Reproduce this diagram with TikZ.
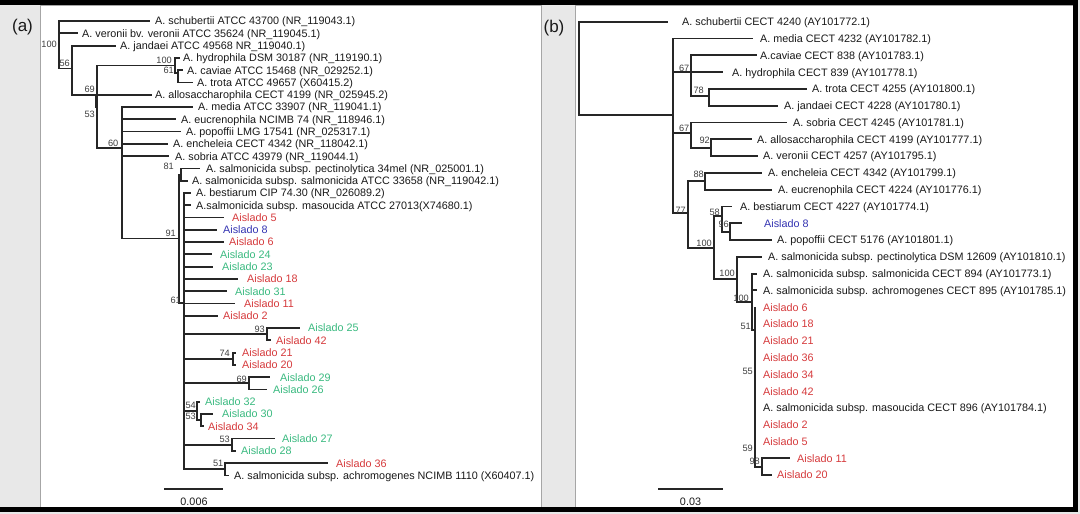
\documentclass[tikz,border=0pt]{standalone}
\usepackage{fontspec}
\setmainfont{Liberation Sans}
\definecolor{ared}{RGB}{214,58,60}
\definecolor{agreen}{RGB}{58,186,128}
\definecolor{ablue}{RGB}{52,52,178}
\definecolor{bggray}{RGB}{232,232,232}
\definecolor{txt}{RGB}{25,25,25}
\newcommand\mkleaf[6]{\coordinate (#1) at (#2,#3); \node[leaf,text=#5] (#1L) at (#4,#3) {#6};}
\newcommand\mkbs[4]{\node[bs] (#1) at (#2,#3) {#4};}
\newcommand\kids[2]{\foreach \c in {#2} {\draw[br] (#1) |- (\c);}}
\begin{document}
\begin{tikzpicture}[x=1pt,y=-1pt,
  br/.style={line width=1.8pt, draw=black!85},
  leaf/.style={anchor=base west, inner sep=0pt, yshift=-3.9pt, font=\fontsize{10.8}{12}\selectfont},
  bs/.style={anchor=east, inner sep=0pt, font=\fontsize{9.2}{10}\selectfont, text=black!75},
  plabel/.style={inner sep=0pt, font=\fontsize{17}{19}\selectfont, text=txt}]
\useasboundingbox (0,0) rectangle (1080,514);
% backgrounds
\fill[bggray] (0,0) rectangle (1080,514);
\filldraw[fill=white, draw=black!35, line width=0.6pt] (40,5) rectangle (541,507);
\filldraw[fill=white, draw=black!35, line width=0.6pt] (575,5) rectangle (1073,507);
\fill[black] (0,0) rectangle (1078,5);
\fill[black] (0,507) rectangle (1078,512);
\fill[black] (1073,0) rectangle (1078,512);
\node[plabel] (pa) at (22.5,27.5) {(a)};
\node[plabel] (pb) at (554,28.5) {(b)};
% ---------------- panel (a) leaves
\mkleaf{a0}{150}{21.0}{155}{txt}{A. schubertii ATCC 43700 (NR\_119043.1)}
\mkleaf{a1}{78}{33.3}{82}{txt}{A. veronii bv. veronii ATCC 35624 (NR\_119045.1)}
\mkleaf{a2}{116}{45.6}{120}{txt}{A. jandaei ATCC 49568 NR\_119040.1)}
\mkleaf{a3}{180}{57.8}{183}{txt}{A. hydrophila DSM 30187 (NR\_119190.1)}
\mkleaf{a4}{183}{70.1}{187}{txt}{A. caviae ATCC 15468 (NR\_029252.1)}
\mkleaf{a5}{193}{82.4}{197}{txt}{A. trota ATCC 49657 (X60415.2)}
\mkleaf{a6}{152}{94.7}{155}{txt}{A. allosaccharophila CECT 4199 (NR\_025945.2)}
\mkleaf{a7}{193}{107.0}{198}{txt}{A. media ATCC 33907 (NR\_119041.1)}
\mkleaf{a8}{176}{119.2}{181}{txt}{A. eucrenophila NCIMB 74 (NR\_118946.1)}
\mkleaf{a9}{181}{131.5}{186}{txt}{A. popoffii LMG 17541 (NR\_025317.1)}
\mkleaf{a10}{168}{143.8}{173}{txt}{A. encheleia CECT 4342 (NR\_118042.1)}
\mkleaf{a11}{169}{156.1}{175}{txt}{A. sobria ATCC 43979 (NR\_119044.1)}
\mkleaf{a12}{200}{168.4}{206}{txt}{A. salmonicida subsp. pectinolytica 34mel (NR\_025001.1)}
\mkleaf{a13}{188}{180.6}{192}{txt}{A. salmonicida subsp. salmonicida ATCC 33658 (NR\_119042.1)}
\mkleaf{a14}{191}{192.9}{196}{txt}{A. bestiarum CIP 74.30 (NR\_026089.2)}
\mkleaf{a15}{191}{205.2}{196}{txt}{A.salmonicida subsp. masoucida ATCC 27013(X74680.1)}
\mkleaf{a16}{224}{217.5}{232}{ared}{Aislado 5}
\mkleaf{a17}{217}{229.8}{223}{ablue}{Aislado 8}
\mkleaf{a18}{224}{242.0}{229}{ared}{Aislado 6}
\mkleaf{a19}{212}{254.3}{220}{agreen}{Aislado 24}
\mkleaf{a20}{213}{266.6}{222}{agreen}{Aislado 23}
\mkleaf{a21}{238}{278.9}{247}{ared}{Aislado 18}
\mkleaf{a22}{227}{291.2}{235}{agreen}{Aislado 31}
\mkleaf{a23}{235}{303.4}{244}{ared}{Aislado 11}
\mkleaf{a24}{218}{315.7}{223}{ared}{Aislado 2}
\mkleaf{a25}{300}{328.0}{308}{agreen}{Aislado 25}
\mkleaf{a26}{271}{340.3}{276}{ared}{Aislado 42}
\mkleaf{a27}{236}{352.6}{242}{ared}{Aislado 21}
\mkleaf{a28}{236}{364.8}{242}{ared}{Aislado 20}
\mkleaf{a29}{270}{377.1}{280}{agreen}{Aislado 29}
\mkleaf{a30}{267}{389.4}{273}{agreen}{Aislado 26}
\mkleaf{a31}{200}{401.7}{205}{agreen}{Aislado 32}
\mkleaf{a32}{213}{414.0}{222}{agreen}{Aislado 30}
\mkleaf{a33}{204}{426.2}{208}{ared}{Aislado 34}
\mkleaf{a34}{275}{438.5}{282}{agreen}{Aislado 27}
\mkleaf{a35}{236}{450.8}{241}{agreen}{Aislado 28}
\mkleaf{a36}{328}{463.1}{336}{ared}{Aislado 36}
\mkleaf{a37}{229}{475.4}{234}{txt}{A. salmonicida subsp. achromogenes NCIMB 1110 (X60407.1)}
% internal nodes (a)
\coordinate (ra) at (59,44);
\coordinate (n56) at (72,68.5);
\coordinate (n69) at (96,94.7);
\coordinate (n53) at (97,107);
\coordinate (n100h) at (175,65.5);
\coordinate (n61h) at (178,73);
\coordinate (n60) at (122,148);
\coordinate (n91) at (179,238.5);
\coordinate (n81) at (181,174.5);
\coordinate (n61) at (184,303);
\coordinate (n93) at (267,334.2);
\coordinate (n74) at (233,358.7);
\coordinate (n69b) at (249,383.2);
\coordinate (n54) at (197,411);
\coordinate (n53c) at (201,420.1);
\coordinate (n53b) at (232,444.6);
\coordinate (n51) at (225,469.2);
\kids{ra}{a0,a1,n56}
\kids{n56}{a2,n69}
\kids{n69}{a6,n53}
\kids{n53}{n100h,n60}
\kids{n100h}{a3,n61h}
\kids{n61h}{a4,a5}
\kids{n60}{a7,a8,a9,a10,a11,n91}
\kids{n91}{n81,n61}
\kids{n81}{a12,a13}
\kids{n61}{a14,a15,a16,a17,a18,a19,a20,a21,a22,a23,a24,n93,n74,n69b,n54,n53b,n51}
\kids{n93}{a25,a26}
\kids{n74}{a27,a28}
\kids{n69b}{a29,a30}
\kids{n54}{a31,n53c}
\kids{n53c}{a32,a33}
\kids{n53b}{a34,a35}
\kids{n51}{a36,a37}
% bootstrap (a)
\mkbs{ba1}{57}{44.5}{100}
\mkbs{ba2}{70}{63.5}{56}
\mkbs{ba3}{172}{60.5}{100}
\mkbs{ba4}{174}{70}{61}
\mkbs{ba5}{95}{89}{69}
\mkbs{ba6}{95}{114}{53}
\mkbs{ba7}{118.5}{143.3}{60}
\mkbs{ba8}{174}{166.7}{81}
\mkbs{ba9}{176}{233.7}{91}
\mkbs{ba10}{181}{300}{61}
\mkbs{ba11}{265}{329}{93}
\mkbs{ba12}{230}{353}{74}
\mkbs{ba13}{247}{379}{69}
\mkbs{ba14}{196}{405.5}{54}
\mkbs{ba15}{196}{416}{53}
\mkbs{ba16}{230}{439.5}{53}
\mkbs{ba17}{223.5}{463.7}{51}
% scale (a)
\coordinate (sa1) at (164,489);
\coordinate (sa2) at (223,489);
\draw[br] (sa1) -- (sa2);
\node[inner sep=0pt, font=\fontsize{10.8}{12}\selectfont, text=txt] (sal) at (194,501.5) {0.006};
% ---------------- panel (b) leaves
\mkleaf{b0}{668}{21.7}{682}{txt}{A. schubertii CECT 4240 (AY101772.1)}
\mkleaf{b1}{753}{38.5}{760}{txt}{A. media CECT 4232 (AY101782.1)}
\mkleaf{b2}{757}{55.3}{760}{txt}{A.caviae CECT 838 (AY101783.1)}
\mkleaf{b3}{723}{72.1}{732}{txt}{A. hydrophila CECT 839 (AY101778.1)}
\mkleaf{b4}{807}{88.9}{812}{txt}{A. trota CECT 4255 (AY101800.1)}
\mkleaf{b5}{778}{105.7}{784}{txt}{A. jandaei CECT 4228 (AY101780.1)}
\mkleaf{b6}{787}{122.4}{793}{txt}{A. sobria CECT 4245 (AY101781.1)}
\mkleaf{b7}{752}{139.2}{757}{txt}{A. allosaccharophila CECT 4199 (AY101777.1)}
\mkleaf{b8}{758}{156.0}{763}{txt}{A. veronii CECT 4257 (AY101795.1)}
\mkleaf{b9}{762}{172.8}{768}{txt}{A. encheleia CECT 4342 (AY101799.1)}
\mkleaf{b10}{772}{189.6}{778}{txt}{A. eucrenophila CECT 4224 (AY101776.1)}
\mkleaf{b11}{732}{206.4}{740}{txt}{A. bestiarum CECT 4227 (AY101774.1)}
\mkleaf{b12}{742}{223.2}{764}{ablue}{Aislado 8}
\mkleaf{b13}{772}{240.0}{777}{txt}{A. popoffii CECT 5176 (AY101801.1)}
\mkleaf{b14}{762}{256.8}{768}{txt}{A. salmonicida subsp. pectinolytica DSM 12609 (AY101810.1)}
\mkleaf{b15}{757}{273.6}{763}{txt}{A. salmonicida subsp. salmonicida CECT 894 (AY101773.1)}
\mkleaf{b16}{757}{290.3}{763}{txt}{A. salmonicida subsp. achromogenes CECT 895 (AY101785.1)}
\mkleaf{b17}{755}{307.1}{763}{ared}{Aislado 6}
\mkleaf{b18}{755}{323.9}{763}{ared}{Aislado 18}
\mkleaf{b19}{755}{340.7}{763}{ared}{Aislado 21}
\mkleaf{b20}{755}{357.5}{763}{ared}{Aislado 36}
\mkleaf{b21}{755}{374.3}{763}{ared}{Aislado 34}
\mkleaf{b22}{755}{391.1}{763}{ared}{Aislado 42}
\mkleaf{b23}{755}{407.9}{763}{txt}{A. salmonicida subsp. masoucida CECT 896 (AY101784.1)}
\mkleaf{b24}{755}{424.7}{763}{ared}{Aislado 2}
\mkleaf{b25}{755}{441.5}{763}{ared}{Aislado 5}
\mkleaf{b26}{790}{458.3}{797}{ared}{Aislado 11}
\mkleaf{b27}{772}{475.0}{777}{ared}{Aislado 20}
% internal nodes (b)
\coordinate (rb) at (579,68);
\coordinate (nb1) at (673,115);
\coordinate (n67a) at (691,72.1);
\coordinate (n78) at (709,96.3);
\coordinate (n67b) at (691,133);
\coordinate (n92) at (711,147.6);
\coordinate (n77) at (688,213);
\coordinate (n88) at (705,181.2);
\coordinate (n100a) at (714,248);
\coordinate (n58) at (722,216);
\coordinate (n96) at (730,231.6);
\coordinate (n100b) at (737,279.3);
\coordinate (n100c) at (752,301.7);
\coordinate (n51b) at (755,330);
\coordinate (n55) at (755,374.3);
\coordinate (n59) at (755,450);
\coordinate (n98) at (762,466.7);
\kids{rb}{b0,nb1}
\kids{nb1}{b1,n67a,n67b,n77}
\kids{n67a}{b2,b3,n78}
\kids{n78}{b4,b5}
\kids{n67b}{b6,n92}
\kids{n92}{b7,b8}
\kids{n77}{n88,n100a}
\kids{n88}{b9,b10}
\kids{n100a}{n58,n100b}
\kids{n58}{b11,n96}
\kids{n96}{b12,b13}
\kids{n100b}{b14,n100c}
\kids{n100c}{b15,b16,n51b}
\kids{n51b}{b17,b18,n55}
\kids{n55}{b19,b20,b21,b22,b23,n59}
\kids{n59}{b24,b25,n98}
\kids{n98}{b26,b27}
% bootstrap (b)
\mkbs{bb1}{689.5}{68}{67}
\mkbs{bb2}{704}{90}{78}
\mkbs{bb3}{689.5}{128}{67}
\mkbs{bb4}{710}{140}{92}
\mkbs{bb5}{704}{174.7}{88}
\mkbs{bb6}{686}{210}{77}
\mkbs{bb7}{720}{212}{58}
\mkbs{bb8}{729}{224.5}{96}
\mkbs{bb9}{712}{243}{100}
\mkbs{bb10}{735}{273}{100}
\mkbs{bb11}{749}{298}{100}
\mkbs{bb12}{751}{326}{51}
\mkbs{bb13}{753}{371.5}{55}
\mkbs{bb14}{753}{448}{59}
\mkbs{bb15}{760}{461}{98}
% scale (b)
\coordinate (sb1) at (658,489);
\coordinate (sb2) at (723,489);
\draw[br] (sb1) -- (sb2);
\node[inner sep=0pt, font=\fontsize{10.8}{12}\selectfont, text=txt] (sbl) at (690.5,501.5) {0.03};
\end{tikzpicture}
\end{document}
